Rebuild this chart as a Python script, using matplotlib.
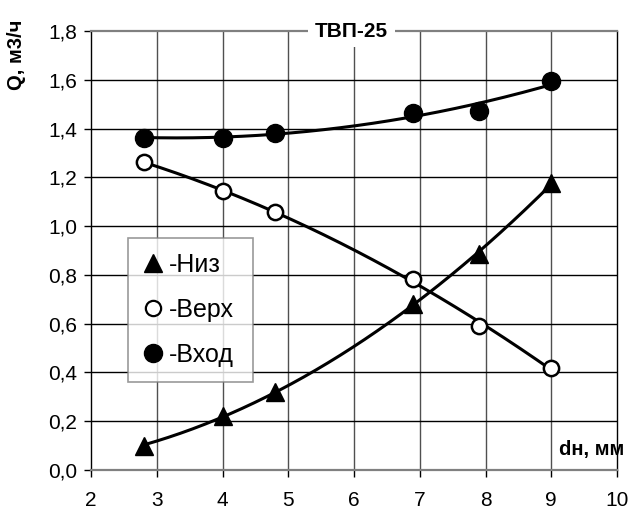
import numpy as np
import matplotlib
matplotlib.use("Agg")
import matplotlib.pyplot as plt
from matplotlib.ticker import FuncFormatter

plt.rcParams['font.family'] = ['Liberation Sans', 'DejaVu Sans']

x = [2.8, 4.0, 4.8, 6.9, 7.9, 9.0]
niz = [0.10, 0.22, 0.32, 0.68, 0.885, 1.177]
verh = [1.262, 1.145, 1.059, 0.782, 0.590, 0.418]
vhod = [1.361, 1.363, 1.383, 1.465, 1.472, 1.594]
labels = ["-Низ", "-Верх", "-Вход"]
title = "ТВП-25"
ylabel = "Q, м3/ч"
xlabel = "dн, мм"

fig = plt.figure(figsize=(6.29, 5.11), dpi=100)
ax = fig.add_axes([91/629, 1-470/511, (617-91)/629, (470-31)/511])

ax.set_xlim(2, 10)
ax.set_ylim(0, 1.8)
ax.set_xticks(np.arange(2, 11, 1))
ax.set_yticks(np.arange(0, 1.81, 0.2))
ax.yaxis.set_major_formatter(FuncFormatter(lambda v, p: f"{v:.1f}".replace('.', ',')))
ax.tick_params(axis='both', labelsize=15, direction='out', length=5, width=1, color='black')
ax.tick_params(axis='x', pad=10)
ax.tick_params(axis='y', pad=5)

for v in np.arange(3, 10, 1):
    ax.axvline(v, color='#505050', lw=1.0, zorder=1)
for v in np.arange(0.2, 1.8, 0.2):
    ax.axhline(v, color='black', lw=1.0, zorder=1)

for s in ['left', 'right']:
    ax.spines[s].set_color('black')
    ax.spines[s].set_linewidth(1.0)
for s in ['top', 'bottom']:
    ax.spines[s].set_color('#808080')
    ax.spines[s].set_linewidth(1.6)

xs = np.linspace(min(x), max(x), 200)
xa = np.array(x)
for data in (niz, verh, vhod):
    c = np.polyfit(xa, np.array(data), 2)
    ax.plot(xs, np.polyval(c, xs), color='black', lw=2.2, zorder=3)

ax.plot(x, niz, linestyle='none', marker='^', markersize=13, color='black', zorder=4)
ax.plot(x, verh, linestyle='none', marker='o', markersize=11, markerfacecolor='white',
        markeredgecolor='black', markeredgewidth=1.8, zorder=4)
ax.plot(x, vhod, linestyle='none', marker='o', markersize=13, color='black', zorder=4)

lg_h1, = ax.plot([], [], linestyle='none', marker='^', markersize=13, color='black')
lg_h2, = ax.plot([], [], linestyle='none', marker='o', markersize=11, markerfacecolor='white',
                 markeredgecolor='black', markeredgewidth=1.6)
lg_h3, = ax.plot([], [], linestyle='none', marker='o', markersize=13, color='black')
leg = ax.legend([lg_h1, lg_h2, lg_h3], labels, loc='lower left',
                bbox_to_anchor=((128-91)/526, (470-382)/439, (253-128)/526, (382-236)/439),
                mode='expand', fontsize=18, frameon=True, fancybox=False,
                handlelength=0.8, handletextpad=0.25, labelspacing=0.85, borderpad=0.6,
                borderaxespad=0)
leg.get_frame().set_edgecolor('#808080')
leg.get_frame().set_linewidth(1.2)
leg.set_zorder(5)

ax.text(0.495, 1.0, title, transform=ax.transAxes, ha='center', va='center',
        fontsize=15, fontweight='bold', zorder=6,
        bbox=dict(facecolor='white', edgecolor='none', pad=5))
ax.text(624/629, 1-449/511, xlabel, transform=fig.transFigure, ha='right', va='center',
        fontsize=14.5, fontweight='bold', zorder=6)
fig.text(17/629, 1-55/511, ylabel, rotation=90, ha='center', va='center',
         fontsize=14.5, fontweight='bold')

fig.savefig("out.png", dpi=100)
